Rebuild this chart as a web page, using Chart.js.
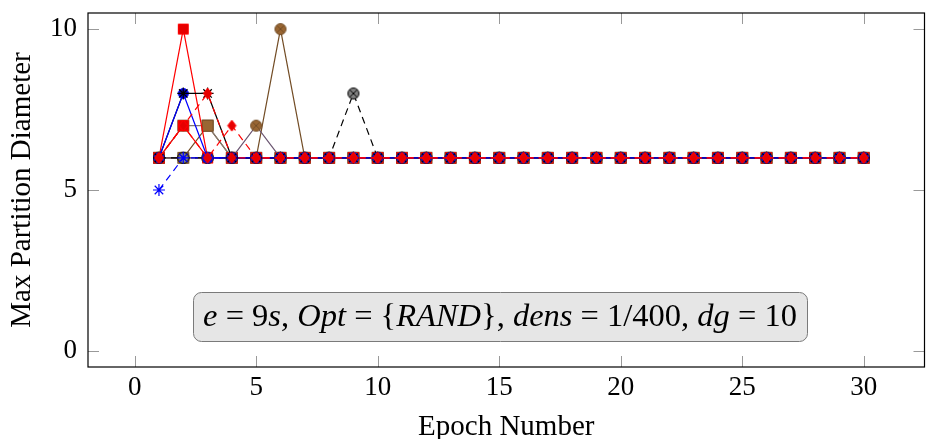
<!DOCTYPE html>
<html>
<head>
<meta charset="utf-8">
<script src="https://cdn.jsdelivr.net/npm/chart.js@4"></script>
<style>
  body { margin: 0; background: #fff; }
  canvas { display: block; }
</style>
</head>
<body>
<canvas id="diameter" width="926" height="439"></canvas>
<script>
// epochs on the x axis
const epochs = [1, 2, 3, 4, 5, 6, 7, 8, 9, 10, 11, 12, 13, 14, 15, 16, 17, 18, 19, 20, 21, 22, 23, 24, 25, 26, 27, 28, 29, 30];

// max partition diameter per run
const redDiamondA  = [6, 7, 8, 6, 6, 6, 6, 6, 6, 6, 6, 6, 6, 6, 6, 6, 6, 6, 6, 6, 6, 6, 6, 6, 6, 6, 6, 6, 6, 6];
const redDiamondB  = [6, 7, 6, 7, 6, 6, 6, 6, 6, 6, 6, 6, 6, 6, 6, 6, 6, 6, 6, 6, 6, 6, 6, 6, 6, 6, 6, 6, 6, 6];
const blackStar    = [6, 8, 8, 6, 6, 6, 6, 6, 6, 6, 6, 6, 6, 6, 6, 6, 6, 6, 6, 6, 6, 6, 6, 6, 6, 6, 6, 6, 6, 6];
const blueStar     = [5, 6, 6, 6, 6, 6, 6, 6, 6, 6, 6, 6, 6, 6, 6, 6, 6, 6, 6, 6, 6, 6, 6, 6, 6, 6, 6, 6, 6, 6];
const blueCircle   = [6, 8, 6, 6, 6, 6, 6, 6, 6, 6, 6, 6, 6, 6, 6, 6, 6, 6, 6, 6, 6, 6, 6, 6, 6, 6, 6, 6, 6, 6];
const grayOtimes   = [6, 6, 6, 6, 6, 6, 6, 6, 8, 6, 6, 6, 6, 6, 6, 6, 6, 6, 6, 6, 6, 6, 6, 6, 6, 6, 6, 6, 6, 6];
const brownOtimesA = [6, 6, 6, 6, 7, 6, 6, 6, 6, 6, 6, 6, 6, 6, 6, 6, 6, 6, 6, 6, 6, 6, 6, 6, 6, 6, 6, 6, 6, 6];
const brownOtimesB = [6, 6, 6, 6, 6, 10, 6, 6, 6, 6, 6, 6, 6, 6, 6, 6, 6, 6, 6, 6, 6, 6, 6, 6, 6, 6, 6, 6, 6, 6];
const redSquareA   = [6, 7, 6, 6, 6, 6, 6, 6, 6, 6, 6, 6, 6, 6, 6, 6, 6, 6, 6, 6, 6, 6, 6, 6, 6, 6, 6, 6, 6, 6];
const redSquareB   = [6, 10, 6, 6, 6, 6, 6, 6, 6, 6, 6, 6, 6, 6, 6, 6, 6, 6, 6, 6, 6, 6, 6, 6, 6, 6, 6, 6, 6, 6];
const brownSquareA = [6, 7, 7, 6, 6, 6, 6, 6, 6, 6, 6, 6, 6, 6, 6, 6, 6, 6, 6, 6, 6, 6, 6, 6, 6, 6, 6, 6, 6, 6];
const brownSquareB = [6, 6, 7, 6, 6, 6, 6, 6, 6, 6, 6, 6, 6, 6, 6, 6, 6, 6, 6, 6, 6, 6, 6, 6, 6, 6, 6, 6, 6, 6];

const xTicks = [0, 5, 10, 15, 20, 25, 30];
const yTicks = [0, 5, 10];

const serif = "'Liberation Serif', 'DejaVu Serif', serif";

// little canvases used as point styles (pgfplots-like marks)
const mark = (shape, size, fill, stroke) => {
    const c = document.createElement('canvas');
    c.width = size + 2;
    c.height = size + 2;
    const g = c.getContext('2d');
    const m = c.width / 2;
    g.fillStyle = fill;
    g.strokeStyle = stroke;
    g.lineWidth = 1;
    g.beginPath();
    if (shape === 'square') {
        g.rect(1.5, 1.5, size - 1, size - 1);
    } else if (shape === 'circle' || shape === 'otimes') {
        g.arc(m, m, size / 2 - 0.5, 0, Math.PI * 2);
    } else if (shape === 'diamond') {
        const w = size * 0.38;
        g.moveTo(m, 1);
        g.lineTo(m + w, m);
        g.lineTo(m, size + 1);
        g.lineTo(m - w, m);
        g.closePath();
    }
    g.fill();
    g.stroke();
    if (shape === 'otimes') {
        const r = (size / 2 - 0.5) * Math.SQRT1_2;
        g.beginPath();
        g.moveTo(m - r, m - r); g.lineTo(m + r, m + r);
        g.moveTo(m + r, m - r); g.lineTo(m - r, m + r);
        g.stroke();
    }
    return c;
};

const RED = '#ff0000', RED_FILL = '#e60000';
const BLUE = '#0000ff', BLUE_FILL = '#0000cc';
const BROWN = 'rgb(115,77,38)', BROWN_FILL = 'rgb(153,102,51)';

const series = (values, color, pointStyle, dash, extra) => Object.assign({
    data: epochs.map((e, i) => ({ x: e, y: values[i] })),
    borderColor: color,
    backgroundColor: color,
    borderWidth: 1.2,
    borderDash: dash || [],
    pointStyle: pointStyle,
    pointRadius: 6,
    tension: 0,
    fill: false,
}, extra || {});

// first dataset ends up on top; the black star run is split so its
// marks sit above the circles while its line stays under the blue one
const datasets = [
    series(redDiamondA, RED, mark('diamond', 11, RED_FILL, RED), [7, 5]),
    series(redDiamondB, RED, mark('diamond', 11, RED_FILL, RED), [7, 5]),
    series(blackStar, '#000000', 'star', null, { showLine: false, pointBorderWidth: 1.2 }),
    series(blueStar, BLUE, 'star', [7, 5], { pointBorderWidth: 1.2 }),
    series(blueCircle, BLUE, mark('circle', 11, BLUE_FILL, BLUE)),
    series(blackStar, '#000000', false),
    series(grayOtimes, '#000000', mark('otimes', 12, '#808080', '#000000'), [7, 5]),
    series(brownOtimesA, '#6a5470', mark('otimes', 12, BROWN_FILL, BROWN)),
    series(brownOtimesB, BROWN, mark('otimes', 12, BROWN_FILL, BROWN)),
    series(redSquareA, RED, mark('square', 11, RED_FILL, RED)),
    series(redSquareB, RED, mark('square', 11, RED_FILL, RED)),
    series(brownSquareA, '#857a70', mark('square', 12, BROWN_FILL, BROWN)),
    series(brownSquareB, BROWN, mark('square', 12, BROWN_FILL, BROWN)),
];

// axis box + inward ticks like pgfplots
const frame = {
    id: 'frame',
    afterDatasetsDraw(chart) {
        const { ctx, chartArea: a, scales: { x, y } } = chart;
        ctx.save();
        ctx.strokeStyle = '#999';
        ctx.lineWidth = 1;
        ctx.beginPath();
        xTicks.forEach(v => {
            const px = Math.round(x.getPixelForValue(v)) + 0.5;
            ctx.moveTo(px, a.bottom); ctx.lineTo(px, a.bottom - 11);
            ctx.moveTo(px, a.top); ctx.lineTo(px, a.top + 11);
        });
        yTicks.forEach(v => {
            const py = Math.round(y.getPixelForValue(v)) + 0.5;
            ctx.moveTo(a.left, py); ctx.lineTo(a.left + 11, py);
            ctx.moveTo(a.right, py); ctx.lineTo(a.right - 11, py);
        });
        ctx.stroke();
        ctx.strokeStyle = '#000';
        ctx.lineWidth = 1.2;
        ctx.strokeRect(a.left, a.top, a.right - a.left, a.bottom - a.top);
        ctx.restore();
    }
};

// the parameter box in the lower part of the plot
const noteParts = [
    ['e', 'i'], [' = 9', 'r'], ['s', 'i'], [', ', 'r'], ['Opt', 'i'], [' = {', 'r'],
    ['RAND', 'i'], ['}, ', 'r'], ['dens', 'i'], [' = 1/400, ', 'r'], ['dg', 'i'], [' = 10', 'r'],
];

const note = {
    id: 'note',
    afterDraw(chart) {
        const { ctx } = chart;
        const size = 32.5;
        const fontOf = k => (k === 'i' ? 'italic ' : '') + size + 'px ' + serif;
        let total = 0;
        noteParts.forEach(([t, k]) => { ctx.font = fontOf(k); total += ctx.measureText(t).width; });
        const cx = 500, cy = 317;
        const bx = 193, by = 292, bw = 614, bh = 49;
        ctx.save();
        ctx.beginPath();
        ctx.roundRect(bx + 0.5, by + 0.5, bw, bh, 8);
        ctx.fillStyle = '#e6e6e6';
        ctx.fill();
        ctx.strokeStyle = '#7a7a7a';
        ctx.lineWidth = 1;
        ctx.stroke();
        ctx.fillStyle = '#000';
        ctx.textBaseline = 'middle';
        let px = cx - total / 2;
        noteParts.forEach(([t, k]) => {
            ctx.font = fontOf(k);
            ctx.fillText(t, px, cy);
            px += ctx.measureText(t).width;
        });
        ctx.restore();
    }
};

const noPad = s => { s.paddingTop = 0; s.paddingBottom = 0; s.paddingLeft = 0; s.paddingRight = 0; };

new Chart(document.getElementById('diameter'), {
    type: 'line',
    data: { datasets: datasets },
    options: {
        responsive: false,
        animation: false,
        devicePixelRatio: 1,
        layout: { autoPadding: false, padding: { top: 13, right: 1.5, left: 0, bottom: 0 } },
        plugins: { legend: { display: false }, tooltip: { enabled: false } },
        scales: {
            x: {
                type: 'linear',
                min: -1.92,
                max: 32.5,
                afterBuildTicks: s => { s.ticks = xTicks.map(v => ({ value: v })); },
                afterFit: s => { s.height = 72; noPad(s); },
                grid: { display: false, drawTicks: false },
                border: { display: false },
                ticks: { color: '#000', padding: 5, maxRotation: 0, font: { family: serif, size: 27 } },
                title: {
                    display: true,
                    text: 'Epoch Number',
                    color: '#000',
                    padding: { top: 0, bottom: 0 },
                    font: { family: serif, size: 29, lineHeight: 0.8 },
                },
            },
            y: {
                min: -0.5,
                max: 10.5,
                afterBuildTicks: s => { s.ticks = yTicks.map(v => ({ value: v })); },
                afterFit: s => { s.width = 88; noPad(s); },
                grid: { display: false, drawTicks: false },
                border: { display: false },
                ticks: { color: '#000', padding: 11, font: { family: serif, size: 27 } },
                title: {
                    display: true,
                    text: 'Max Partition Diameter',
                    color: '#000',
                    padding: { top: 5, bottom: 0 },
                    font: { family: serif, size: 29 },
                },
            },
        },
    },
    plugins: [frame, note],
});
</script>
</body>
</html>
